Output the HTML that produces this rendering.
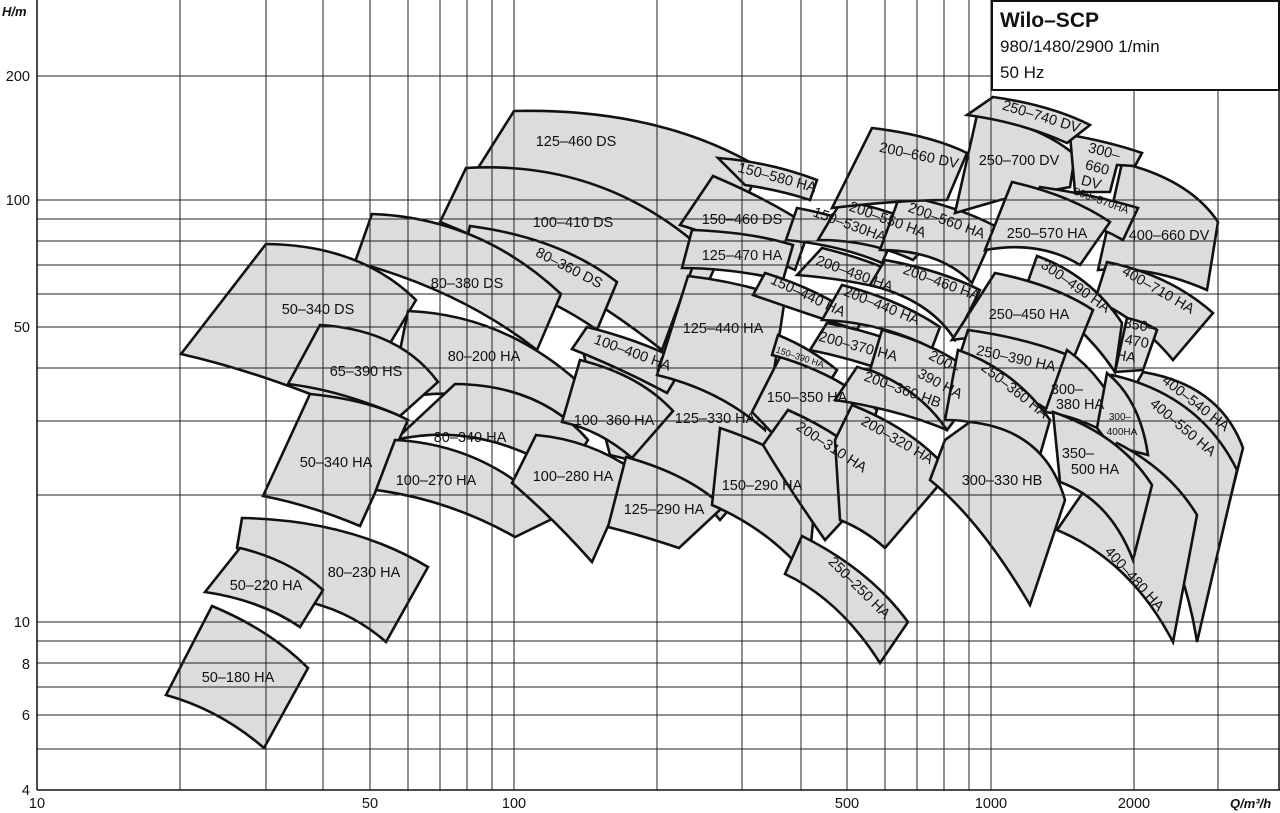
<!DOCTYPE html>
<html><head><meta charset="utf-8"><style>
html,body{margin:0;padding:0;background:#fff;}
svg{display:block;}
text{font-family:"Liberation Sans",sans-serif;font-size:14.5px;fill:#111;}
</style></head><body>
<svg width="1280" height="813" viewBox="0 0 1280 813" xmlns="http://www.w3.org/2000/svg">
<g fill="#dcdcdc" stroke="#111" stroke-width="2.6" stroke-linejoin="miter">
<path d="M514,111 Q660,108 760,168 L700,300 Q600,220 478,168 Z"/>
<path d="M466,168 Q600,160 700,247 L662,350 Q560,270 440,222 Z"/>
<path d="M470,226 Q560,238 617,282 L597,330 Q540,290 460,270 Z"/>
<path d="M372,214 Q480,218 561,294 L537,350 Q460,290 355,262 Z"/>
<path d="M266,244 Q360,245 416,300 L350,410 Q260,372 181,354 Z"/>
<path d="M408,311 Q510,315 590,393 L562,422 Q480,380 390,400 Z"/>
<path d="M320,325 Q400,330 438,382 L400,416 Q340,390 288,384 Z"/>
<path d="M455,384 Q540,385 588,440 L566,475 Q480,420 395,440 Z"/>
<path d="M310,394 Q370,400 408,420 L360,526 Q310,505 263,496 Z"/>
<path d="M395,440 Q490,445 556,517 L515,537 Q450,500 376,490 Z"/>
<path d="M580,340 Q700,360 790,440 L720,520 Q680,470 610,455 Z"/>
<path d="M580,360 Q640,375 673,411 L632,458 Q600,430 562,422 Z"/>
<path d="M587,327 Q640,340 685,363 L667,393 Q620,368 572,349 Z"/>
<path d="M536,435 Q590,440 633,470 L592,562 Q555,520 512,483 Z"/>
<path d="M626,457 Q690,475 723,507 L679,548 Q640,535 608,527 Z"/>
<path d="M688,276 Q740,282 785,298 L765,430 Q720,390 657,375 Z"/>
<path d="M718,158 Q770,162 817,180 L810,200 Q780,190 745,185 Z"/>
<path d="M713,176 Q770,200 810,227 L795,270 Q730,240 680,225 Z"/>
<path d="M692,230 Q750,232 793,245 L783,280 Q730,268 682,268 Z"/>
<path d="M765,273 Q820,290 862,320 L857,330 Q810,315 753,295 Z"/>
<path d="M780,357 Q840,375 877,410 L840,520 Q800,460 752,412 Z"/>
<path d="M778,335 Q810,348 837,370 L832,378 Q800,362 772,355 Z"/>
<path d="M720,428 Q780,448 817,478 L808,577 Q770,530 712,505 Z"/>
<path d="M788,410 Q845,435 885,475 L825,540 Q790,490 763,445 Z"/>
<path d="M802,536 Q870,570 908,622 L880,663 Q840,600 785,574 Z"/>
<path d="M852,405 Q915,430 950,472 L885,548 Q865,530 840,520 L835,440 Z"/>
<path d="M857,367 Q915,382 955,405 L947,430 Q900,410 835,400 Z"/>
<path d="M827,323 Q880,333 922,353 L910,380 Q860,360 810,350 Z"/>
<path d="M882,330 Q950,348 983,383 L947,430 Q920,390 870,370 Z"/>
<path d="M842,285 Q900,300 940,327 L932,348 Q880,322 822,320 Z"/>
<path d="M822,248 Q880,262 918,285 L910,296 Q860,280 797,275 Z"/>
<path d="M885,260 Q940,270 980,290 L955,340 Q930,300 870,285 Z"/>
<path d="M797,208 Q850,218 893,238 L882,263 Q840,245 786,240 Z"/>
<path d="M842,200 Q900,212 938,233 L913,260 Q870,240 818,240 Z"/>
<path d="M900,195 Q955,205 997,227 L972,283 Q940,250 880,250 Z"/>
<path d="M872,128 Q930,135 967,153 L947,200 Q900,200 832,208 Z"/>
<path d="M1122,163 Q1190,180 1218,222 L1207,290 Q1150,265 1098,270 Z"/>
<path d="M977,115 Q1040,125 1075,155 L1070,187 L1000,200 L955,213 Z"/>
<path d="M1070,135 Q1110,142 1142,153 L1135,166 L1117,165 L1110,192 L1075,192 Z"/>
<path d="M993,97 Q1050,105 1090,125 L1067,143 Q1020,122 967,115 Z"/>
<path d="M1040,187 Q1095,195 1138,208 L1123,240 Q1080,215 1025,215 Z"/>
<path d="M1012,182 Q1070,195 1110,222 L1080,265 Q1040,240 985,250 Z"/>
<path d="M1107,262 Q1170,275 1213,313 L1173,360 Q1140,320 1095,300 Z"/>
<path d="M1037,256 Q1090,275 1122,323 L1115,372 Q1080,320 1025,290 Z"/>
<path d="M1127,318 Q1145,322 1157,330 L1143,370 L1115,372 Z"/>
<path d="M995,273 Q1055,285 1093,310 L1072,362 Q1010,330 952,340 Z"/>
<path d="M968,330 Q1025,338 1068,355 L1048,410 Q1000,380 955,370 Z"/>
<path d="M958,350 Q1015,370 1050,420 L1040,455 Q1000,420 945,420 Z"/>
<path d="M1067,350 Q1095,370 1112,400 L1097,428 Q1070,415 1045,412 Z"/>
<path d="M1143,372 Q1220,385 1243,448 L1218,547 Q1200,450 1130,395 Z"/>
<path d="M1112,375 Q1200,395 1237,470 L1197,642 Q1180,530 1105,440 Z"/>
<path d="M1107,373 Q1140,400 1148,455 L1110,445 L1097,428 Z"/>
<path d="M1117,443 Q1170,470 1197,515 L1173,642 Q1130,560 1057,530 Z"/>
<path d="M1053,412 Q1120,435 1152,485 L1133,560 Q1110,500 1060,482 Z"/>
<path d="M970,422 Q1045,430 1065,500 L1030,605 Q980,520 930,480 L945,440 Z"/>
<path d="M242,518 Q350,520 428,567 L386,642 Q350,610 300,600 L237,548 Z"/>
<path d="M240,548 Q290,560 323,590 L300,627 Q260,600 205,592 Z"/>
<path d="M212,606 Q270,630 308,668 L264,748 Q220,710 166,695 Z"/>
</g>
<g stroke="#222" stroke-width="1">
<line x1="180" y1="0" x2="180" y2="790"/><line x1="266" y1="0" x2="266" y2="790"/>
<line x1="323" y1="0" x2="323" y2="790"/><line x1="370" y1="0" x2="370" y2="790"/>
<line x1="408" y1="0" x2="408" y2="790"/><line x1="440" y1="0" x2="440" y2="790"/>
<line x1="467" y1="0" x2="467" y2="790"/><line x1="492" y1="0" x2="492" y2="790"/>
<line x1="514" y1="0" x2="514" y2="790"/><line x1="657" y1="0" x2="657" y2="790"/>
<line x1="742" y1="0" x2="742" y2="790"/><line x1="801" y1="0" x2="801" y2="790"/>
<line x1="847" y1="0" x2="847" y2="790"/><line x1="885" y1="0" x2="885" y2="790"/>
<line x1="917" y1="0" x2="917" y2="790"/><line x1="944" y1="0" x2="944" y2="790"/>
<line x1="969" y1="0" x2="969" y2="790"/><line x1="991" y1="0" x2="991" y2="790"/>
<line x1="1134" y1="90" x2="1134" y2="790"/><line x1="1218" y1="90" x2="1218" y2="790"/>
<line x1="37" y1="76" x2="1280" y2="76"/><line x1="37" y1="200" x2="1280" y2="200"/>
<line x1="37" y1="219" x2="1280" y2="219"/><line x1="37" y1="241" x2="1280" y2="241"/>
<line x1="37" y1="265" x2="1280" y2="265"/><line x1="37" y1="294" x2="1280" y2="294"/>
<line x1="37" y1="327" x2="1280" y2="327"/><line x1="37" y1="368" x2="1280" y2="368"/>
<line x1="37" y1="421" x2="1280" y2="421"/><line x1="37" y1="495" x2="1280" y2="495"/>
<line x1="37" y1="622" x2="1280" y2="622"/><line x1="37" y1="641" x2="1280" y2="641"/>
<line x1="37" y1="663" x2="1280" y2="663"/><line x1="37" y1="687" x2="1280" y2="687"/>
<line x1="37" y1="715" x2="1280" y2="715"/><line x1="37" y1="749" x2="1280" y2="749"/>
</g>
<g stroke="#111" stroke-width="1.5" fill="none">
<line x1="37" y1="0" x2="37" y2="790"/><line x1="37" y1="790" x2="1280" y2="790"/>
<line x1="1279" y1="0" x2="1279" y2="790"/>
</g>
<rect x="992" y="1" width="287" height="89" fill="#fff" stroke="#111" stroke-width="2"/>
<text x="1000" y="27" style="font-size:21px;font-weight:bold">Wilo–SCP</text>
<text x="1000" y="52" style="font-size:17px">980/1480/2900 1/min</text>
<text x="1000" y="78" style="font-size:17px">50 Hz</text>
<g style="font-size:13px" text-anchor="end">
<text x="30" y="81">200</text><text x="30" y="205">100</text><text x="30" y="332">50</text>
<text x="30" y="627">10</text><text x="30" y="669">8</text><text x="30" y="720">6</text><text x="30" y="795">4</text>
</g>
<text x="2" y="16" style="font-size:13px;font-weight:bold;font-style:italic">H/m</text>
<g style="font-size:13px" text-anchor="middle">
<text x="37" y="808">10</text><text x="370" y="808">50</text><text x="514" y="808">100</text>
<text x="847" y="808">500</text><text x="991" y="808">1000</text><text x="1134" y="808">2000</text>
</g>
<text x="1230" y="808" style="font-size:13px;font-weight:bold;font-style:italic">Q/m³/h</text>
<g text-anchor="middle">
<text x="576" y="146">125–460 DS</text>
<text x="573" y="227">100–410 DS</text>
<text transform="translate(567,272) rotate(27)">80–360 DS</text>
<text x="467" y="288">80–380 DS</text>
<text x="318" y="314">50–340 DS</text>
<text x="366" y="376">65–390 HS</text>
<text x="484" y="361">80–200 HA</text>
<text x="470" y="442">80–340 HA</text>
<text x="614" y="425">100–360 HA</text>
<text x="436" y="485">100–270 HA</text>
<text x="336" y="467">50–340 HA</text>
<text x="573" y="481">100–280 HA</text>
<text x="664" y="514">125–290 HA</text>
<text x="715" y="423">125–330 HA</text>
<text transform="translate(631,357) rotate(20)">100–400 HA</text>
<text x="723" y="333">125–440 HA</text>
<text x="742" y="260">125–470 HA</text>
<text x="742" y="224">150–460 DS</text>
<text transform="translate(776,182) rotate(15)">150–580 HA</text>
<text transform="translate(918,160) rotate(12)">200–660 DV</text>
<text transform="translate(886,224) rotate(20)">200–550 HA</text>
<text transform="translate(848,229) rotate(20)">150–530HA</text>
<text transform="translate(945,225) rotate(20)">200–560 HA</text>
<text transform="translate(853,278) rotate(20)">200–480 HA</text>
<text transform="translate(940,287) rotate(20)">200–460 HA</text>
<text transform="translate(806,300) rotate(25)">150–440 HA</text>
<text transform="translate(880,310) rotate(22)">200–440 HA</text>
<text transform="translate(857,351) rotate(15)">200–370 HA</text>
<text transform="translate(799,360) rotate(18)" style="font-size:9px">150–390 HA</text>
<text x="807" y="402">150–350 HA</text>
<text transform="translate(942,366) rotate(28)">200–</text>
<text transform="translate(938,388) rotate(28)">390 HA</text>
<text transform="translate(901,394) rotate(20)">200–360 HB</text>
<text transform="translate(895,444) rotate(30)">200–320 HA</text>
<text transform="translate(829,451) rotate(33)">200–310 HA</text>
<text x="762" y="490">150–290 HA</text>
<text transform="translate(856,591) rotate(45)">250–250 HA</text>
<text x="1002" y="485">300–330 HB</text>
<text transform="translate(1012,394) rotate(38)">250–360 HA</text>
<text transform="translate(1015,363) rotate(12)">250–390 HA</text>
<text x="1067" y="394">300–</text><text x="1080" y="409">380 HA</text>
<text x="1120" y="420" style="font-size:10px">300–</text><text x="1122" y="435" style="font-size:10px">400HA</text>
<text x="1078" y="458">350–</text><text x="1095" y="474">500 HA</text>
<text transform="translate(1131,582) rotate(48)">400–480 HA</text>
<text transform="translate(1180,431) rotate(40)">400–550 HA</text>
<text transform="translate(1193,407) rotate(38)">400–540 HA</text>
<text x="1029" y="319">250–450 HA</text>
<text transform="translate(1073,290) rotate(35)">300–490 HA</text>
<text transform="translate(1139,330) rotate(10)">350–</text>
<text transform="translate(1136,346) rotate(10)">470</text>
<text transform="translate(1125,361) rotate(10)">HA</text>
<text transform="translate(1156,294) rotate(30)">400–710 HA</text>
<text x="1169" y="240">400–660 DV</text>
<text x="1047" y="238">250–570 HA</text>
<text transform="translate(1100,204) rotate(20)" style="font-size:11px">300–570HA</text>
<text transform="translate(1103,156) rotate(15)">300–</text>
<text transform="translate(1096,172) rotate(15)">660</text>
<text transform="translate(1090,187) rotate(15)">DV</text>
<text x="1019" y="165">250–700 DV</text>
<text transform="translate(1040,121) rotate(17)">250–740 DV</text>
<text x="266" y="590">50–220 HA</text>
<text x="364" y="577">80–230 HA</text>
<text x="238" y="682">50–180 HA</text>
</g>
</svg>
</body></html>
